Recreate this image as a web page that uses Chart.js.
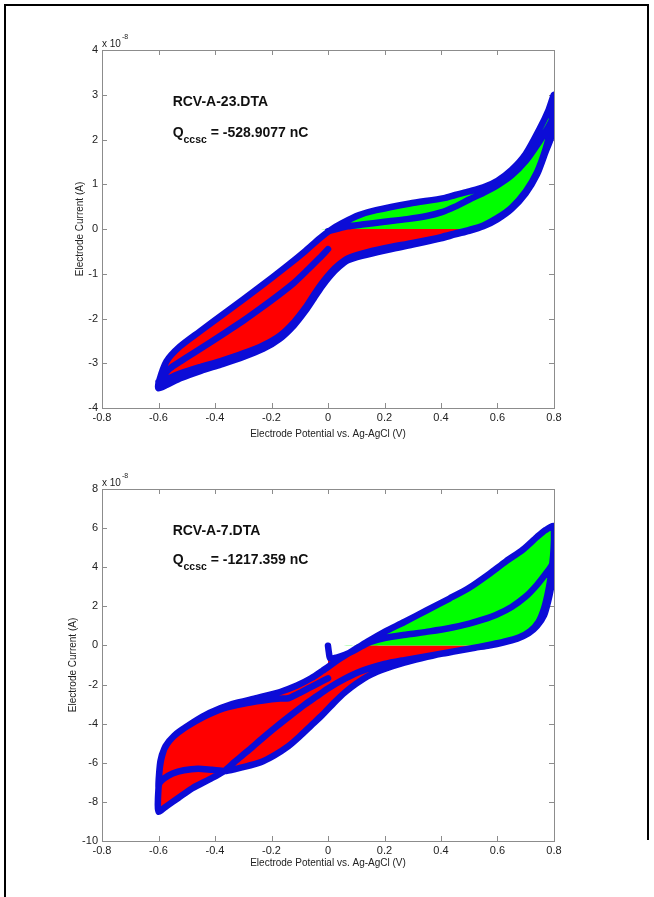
<!DOCTYPE html>
<html>
<head>
<meta charset="utf-8">
<title>CCSC cyclic voltammograms</title>
<script src="https://cdn.jsdelivr.net/npm/chart.js@4.4.1/dist/chart.umd.min.js"></script>
<style>
  html, body { margin: 0; padding: 0; background: #fff; }
  #page { position: relative; width: 654px; height: 897px; overflow: hidden; background: #fff; }
  canvas { position: absolute; left: 0; }
  #cv23 { top: 0; }
  #cv7 { top: 450px; }
  .frame { position: absolute; background: #000; }
</style>
</head>
<body>
<div id="page">
  <div class="frame" style="left:4px;top:4px;width:2px;height:893px"></div>
  <div class="frame" style="left:4px;top:4px;width:645px;height:2px"></div>
  <div class="frame" style="left:647px;top:4px;width:2px;height:836px"></div>
  <canvas id="cv23" width="654" height="450"></canvas>
  <canvas id="cv7" width="654" height="447"></canvas>
</div>
<script>
var potentialTicks = [-0.8, -0.6, -0.4, -0.2, 0, 0.2, 0.4, 0.6, 0.8];
var currentTicks23 = [-4, -3, -2, -1, 0, 1, 2, 3, 4];
var currentTicks7 = [-10, -8, -6, -4, -2, 0, 2, 4, 6, 8];

// RCV-A-23.DTA, potential (V) and current (x 1e-8 A), in scan order
var potential23 = [
  0.00, 0.03, 0.07, 0.12, 0.20, 0.28, 0.35, 0.40, 0.45, 0.50, 0.55, 0.60, 0.65, 0.70, 0.75, 0.78, 0.80,
  0.79, 0.77, 0.74, 0.70, 0.65, 0.60, 0.55, 0.50, 0.45, 0.40, 0.30, 0.20, 0.12, 0.07, 0.04, 0.01, -0.02, -0.05,
  -0.08, -0.12, -0.17, -0.23, -0.30, -0.38, -0.45, -0.52, -0.57, -0.60,
  -0.598, -0.572, -0.525, -0.454, -0.36, -0.24, -0.15, -0.08, -0.03, 0.01, 0.05, 0.11, 0.17, 0.29, 0.41, 0.45,
  0.50, 0.55, 0.60, 0.65, 0.70, 0.75, 0.78, 0.80,
  0.795, 0.785, 0.77, 0.74, 0.70, 0.65, 0.60, 0.55, 0.50, 0.45, 0.40, 0.30, 0.20, 0.12, 0.07, 0.04, 0.01, -0.02,
  -0.05, -0.08, -0.12, -0.17, -0.23, -0.30, -0.38, -0.45, -0.52, -0.57, -0.60,
  -0.585, -0.56, -0.52, -0.47, -0.42, -0.36, -0.30, -0.24, -0.18, -0.12, -0.07, -0.03, 0.00
];
var current23 = [
  -0.05, 0.00, 0.06, 0.10, 0.16, 0.22, 0.29, 0.37, 0.50, 0.66, 0.81, 0.98, 1.20, 1.52, 1.97, 2.28, 2.50,
  2.05, 1.72, 1.22, 0.80, 0.45, 0.22, 0.06, -0.04, -0.12, -0.21, -0.35, -0.48, -0.60, -0.70, -0.84, -1.03, -1.27, -1.55,
  -1.83, -2.15, -2.45, -2.68, -2.86, -3.03, -3.17, -3.33, -3.48, -3.56,
  -3.40, -2.96, -2.63, -2.29, -1.85, -1.29, -0.85, -0.49, -0.21, -0.02, 0.13, 0.31, 0.42, 0.57, 0.69, 0.76,
  0.84, 0.93, 1.08, 1.32, 1.68, 2.25, 2.65, 3.00,
  2.60, 2.15, 1.78, 1.27, 0.84, 0.48, 0.25, 0.08, -0.02, -0.10, -0.18, -0.31, -0.43, -0.55, -0.66, -0.79, -0.97, -1.20,
  -1.47, -1.76, -2.08, -2.38, -2.60, -2.78, -2.95, -3.08, -3.22, -3.35, -3.42,
  -3.30, -3.12, -2.95, -2.75, -2.55, -2.30, -2.05, -1.78, -1.50, -1.20, -0.90, -0.65, -0.45
];

// RCV-A-7.DTA
var potential7 = [
  0.000, 0.003, 0.008, 0.03, 0.06, 0.09, 0.12, 0.15, 0.20, 0.28, 0.36, 0.44, 0.50, 0.55, 0.60, 0.65, 0.70, 0.74,
  0.77, 0.79, 0.80,
  0.797, 0.79, 0.78, 0.765, 0.74, 0.71, 0.67, 0.62, 0.57, 0.52, 0.45, 0.40, 0.33, 0.27, 0.20, 0.15, 0.10, 0.06,
  0.02, -0.02, -0.06, -0.10, -0.14, -0.19, -0.24, -0.30, -0.36, -0.41, -0.46, -0.51, -0.55, -0.58, -0.597, -0.60,
  -0.598, -0.593, -0.58, -0.56, -0.53, -0.48, -0.42, -0.34, -0.25, -0.17, -0.11, -0.06, -0.02, 0.04, 0.09, 0.14,
  0.20, 0.27, 0.35, 0.43, 0.50, 0.57, 0.63, 0.69, 0.74, 0.77, 0.80,
  0.80, 0.797, 0.79, 0.78, 0.765, 0.745, 0.715, 0.675, 0.62, 0.57, 0.50, 0.43, 0.35, 0.27, 0.20, 0.12, 0.06, 0.00,
  -0.04, -0.08, -0.13, -0.18, -0.23, -0.28, -0.33, -0.37, -0.42, -0.48, -0.53, -0.57, -0.60,
  -0.602, -0.60, -0.597, -0.59, -0.575, -0.545, -0.50, -0.44, -0.37, -0.30, -0.23, -0.17, -0.14, -0.11, -0.07,
  -0.03, 0.00
];
var current7 = [
  -0.02, -0.35, -0.66, -0.62, -0.48, -0.28, -0.04, 0.18, 0.38, 0.56, 0.72, 0.92, 1.12, 1.33, 1.60, 1.97, 2.50, 3.10,
  3.65, 4.05, 4.35,
  3.70, 3.00, 2.30, 1.55, 1.00, 0.62, 0.35, 0.15, 0.00, -0.12, -0.30, -0.43, -0.66, -0.88, -1.20, -1.50, -1.95, -2.40,
  -2.95, -3.55, -4.10, -4.65, -5.15, -5.62, -5.98, -6.22, -6.42, -6.36, -6.30, -6.38, -6.55, -6.80, -7.05, -7.25,
  -6.60, -5.90, -5.30, -4.85, -4.45, -3.95, -3.45, -3.00, -2.68, -2.38, -2.05, -1.68, -1.30, -0.70, -0.25, 0.20,
  0.70, 1.20, 1.80, 2.40, 2.95, 3.65, 4.30, 4.90, 5.55, 5.90, 6.10,
  5.40, 4.60, 3.70, 2.80, 1.90, 1.20, 0.72, 0.40, 0.18, 0.03, -0.17, -0.35, -0.55, -0.75, -0.95, -1.30, -1.70, -2.20,
  -2.60, -3.00, -3.55, -4.12, -4.72, -5.35, -5.95, -6.45, -6.85, -7.30, -7.80, -8.20, -8.50,
  -7.90, -7.30, -6.50, -5.80, -5.15, -4.62, -4.15, -3.65, -3.22, -2.98, -2.82, -2.72, -2.70, -2.50, -2.20,
  -1.90, -1.68
];

var fileName23 = 'RCV-A-23.DTA';
var charge23 = '-528.9077 nC';
var fileName7 = 'RCV-A-7.DTA';
var charge7 = '-1217.359 nC';

var FONT = 'Arial, "Liberation Sans", Helvetica, sans-serif';
var BLUE = 'rgb(12,12,215)';

// matlab style box with inward ticks on all four sides
var axesBox = {
  id: 'axesBox',
  beforeDatasetsDraw: function(chart) {
    var ctx = chart.ctx, a = chart.chartArea;
    var xs = chart.scales.x, ys = chart.scales.y;
    ctx.save();
    ctx.strokeStyle = '#8c8c8c';
    ctx.lineWidth = 1;
    ctx.strokeRect(Math.round(a.left) + 0.5, Math.round(a.top) + 0.5,
      Math.round(a.right - a.left), Math.round(a.bottom - a.top));
    ctx.beginPath();
    xs.ticks.forEach(function(t) {
      var px = Math.round(xs.getPixelForValue(t.value)) + 0.5;
      ctx.moveTo(px, a.bottom); ctx.lineTo(px, a.bottom - 5);
      ctx.moveTo(px, a.top); ctx.lineTo(px, a.top + 5);
    });
    ys.ticks.forEach(function(t) {
      var py = Math.round(ys.getPixelForValue(t.value)) + 0.5;
      ctx.moveTo(a.left, py); ctx.lineTo(a.left + 5, py);
      ctx.moveTo(a.right, py); ctx.lineTo(a.right - 5, py);
    });
    ctx.stroke();
    ctx.restore();
  }
};

// file name, charge and the axis exponent
var notes = {
  id: 'notes',
  afterDraw: function(chart, args, opts) {
    var ctx = chart.ctx, a = chart.chartArea;
    var xs = chart.scales.x, ys = chart.scales.y;
    var left = xs.getPixelForValue(opts.at[0]);
    var qy = ys.getPixelForValue(opts.at[2]);
    ctx.save();
    ctx.fillStyle = '#111';
    ctx.textBaseline = 'middle';
    ctx.textAlign = 'left';
    ctx.font = 'bold 14px ' + FONT;
    ctx.fillText(opts.file, left, ys.getPixelForValue(opts.at[1]));
    ctx.fillText('Q', left, qy);
    var w = ctx.measureText('Q').width;
    ctx.font = 'bold 10.5px ' + FONT;
    ctx.fillText('ccsc', left + w, qy + 7);
    var w2 = ctx.measureText('ccsc').width;
    ctx.font = 'bold 14px ' + FONT;
    ctx.fillText(' = ' + opts.charge, left + w + w2, qy);

    ctx.fillStyle = '#222';
    ctx.textBaseline = 'alphabetic';
    ctx.font = '10px ' + FONT;
    ctx.fillText('x 10', a.left, a.top - 3.5);
    var w3 = ctx.measureText('x 10').width;
    ctx.font = '7px ' + FONT;
    ctx.fillText('-8', a.left + w3 + 1, a.top - 11);
    ctx.restore();
  }
};

function cvChart(canvasId, potential, current, yTicks, box, note) {
  var trace = potential.map(function(v, i) { return {x: v, y: current[i]}; });
  var anodic = trace.map(function(p) { return {x: p.x, y: Math.max(p.y, 0)}; });
  var cathodic = trace.map(function(p) { return {x: p.x, y: Math.min(p.y, 0)}; });
  var fillSet = function(data, color, order) {
    return {
      data: data, showLine: true, fill: 'shape', backgroundColor: color,
      borderColor: 'rgba(0,0,0,0)', borderWidth: 0, tension: 0.25,
      pointRadius: 0, pointHoverRadius: 0, order: order
    };
  };
  var tickFont = {family: FONT, size: 11};
  var titleFont = {family: FONT, size: 10};

  return new Chart(document.getElementById(canvasId), {
    type: 'scatter',
    data: {
      datasets: [
        {
          data: trace, showLine: true, fill: false, borderColor: BLUE, borderWidth: 6.5,
          borderJoinStyle: 'round', borderCapStyle: 'round', tension: 0.25,
          pointRadius: 0, pointHoverRadius: 0, order: 0
        },
        fillSet(anodic, '#00ff00', 1),
        fillSet(cathodic, '#ff0000', 2)
      ]
    },
    options: {
      responsive: false,
      animation: false,
      devicePixelRatio: 1,
      layout: {padding: box.padding},
      plugins: {
        legend: {display: false},
        tooltip: {enabled: false},
        notes: note
      },
      scales: {
        x: {
          type: 'linear', min: -0.8, max: 0.8,
          afterBuildTicks: function(s) { s.ticks = potentialTicks.map(function(v) { return {value: v}; }); },
          afterFit: function(s) { s.height = box.xHeight; },
          grid: {display: false, drawTicks: false},
          border: {display: false},
          ticks: {
            color: '#222', padding: 3, font: tickFont, maxRotation: 0, autoSkip: false,
            callback: function(v) { return String(Math.round(v * 10) / 10); }
          },
          title: {
            display: true, text: 'Electrode Potential vs. Ag-AgCl (V)', color: '#222',
            font: titleFont, padding: {top: 0, bottom: 4}
          }
        },
        y: {
          type: 'linear', min: yTicks[0], max: yTicks[yTicks.length - 1],
          afterBuildTicks: function(s) { s.ticks = yTicks.map(function(v) { return {value: v}; }); },
          afterFit: function(s) { s.width = box.yWidth; },
          grid: {display: false, drawTicks: false},
          border: {display: false},
          ticks: {color: '#222', padding: 4, font: tickFont, autoSkip: false},
          title: {
            display: true, text: 'Electrode Current (A)', color: '#222',
            font: titleFont, padding: {top: 4, bottom: 0}
          }
        }
      }
    },
    plugins: [axesBox, notes]
  });
}

cvChart('cv23', potential23, current23, currentTicks23,
  {padding: {left: 70, right: 100, top: 50, bottom: 6}, yWidth: 32, xHeight: 36},
  {file: fileName23, charge: charge23, at: [-0.55, 2.83, 2.15]});

cvChart('cv7', potential7, current7, currentTicks7,
  {padding: {left: 63, right: 100, top: 39, bottom: 24}, yWidth: 39, xHeight: 32},
  {file: fileName7, charge: charge7, at: [-0.55, 5.85, 4.37]});
</script>
</body>
</html>
